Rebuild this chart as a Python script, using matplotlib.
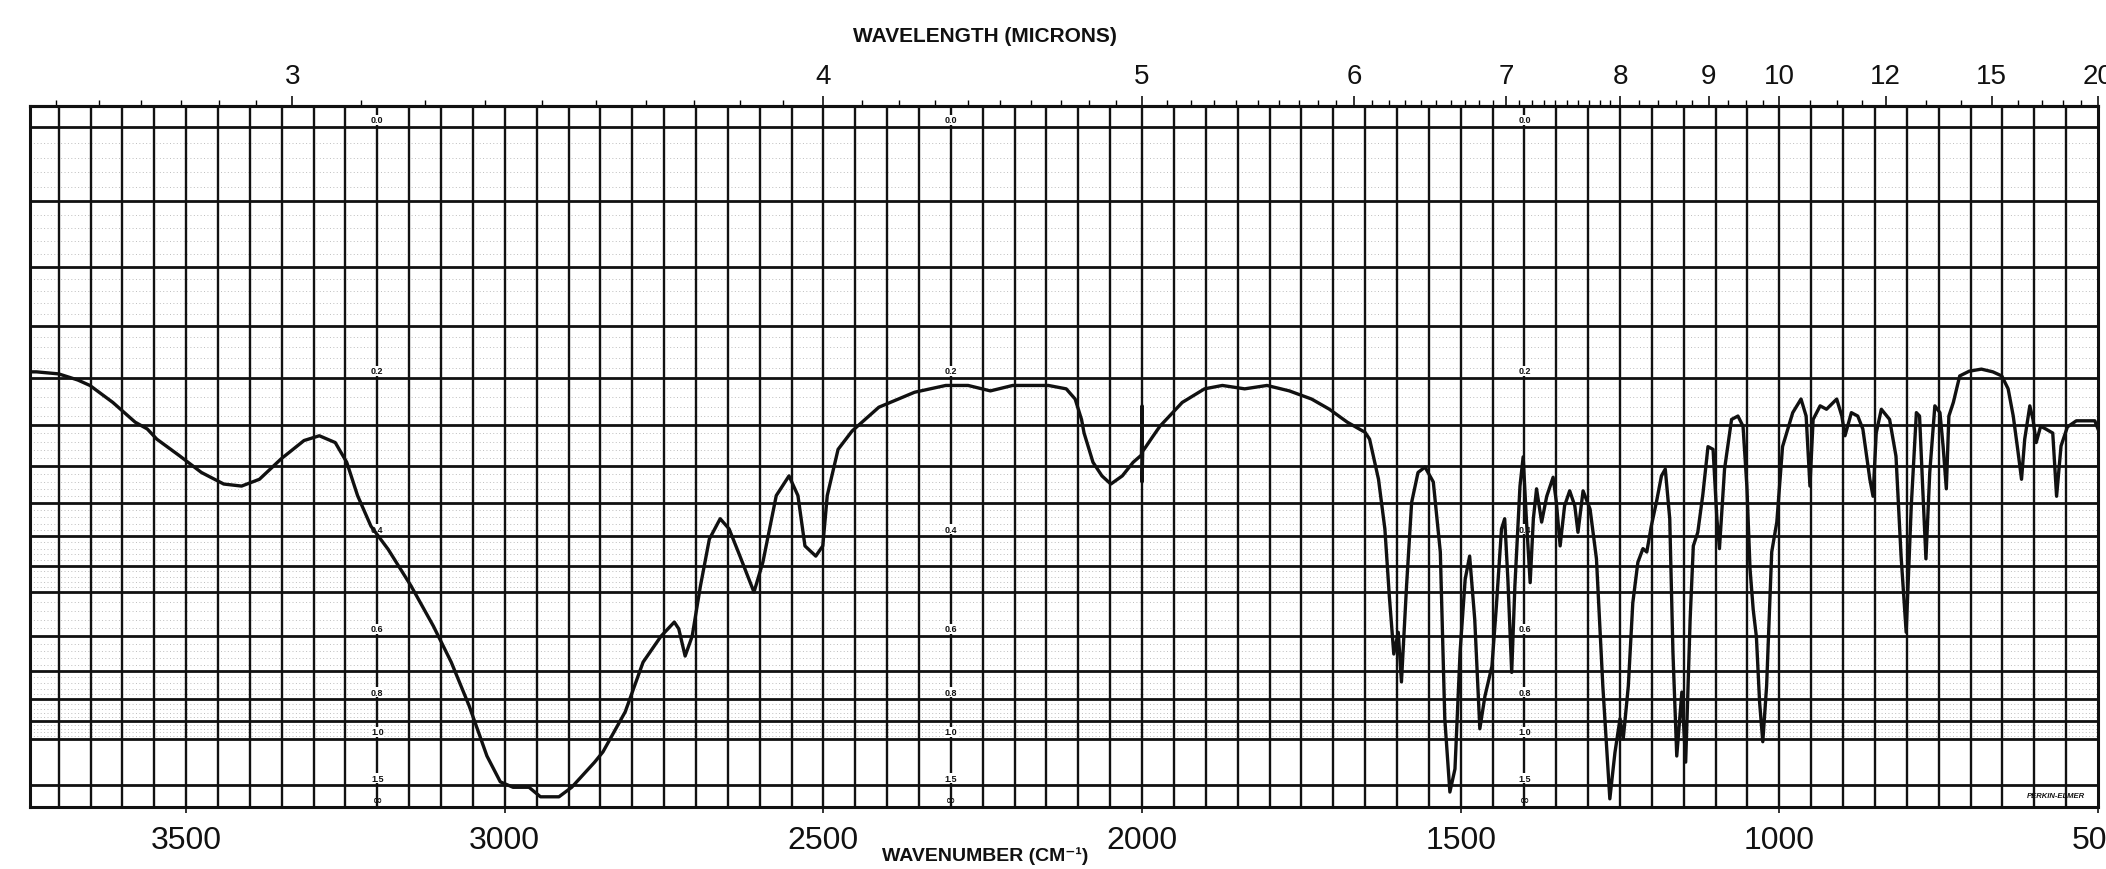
import numpy as np
import matplotlib
matplotlib.use("Agg")
import matplotlib.pyplot as plt

plt.rcParams['font.family'] = ['Liberation Sans', 'DejaVu Sans']

# spectrum: wavenumber (cm-1) and % transmittance
wavenumber = [3745, 3735, 3700, 3670, 3651, 3615, 3580, 3561, 3546, 3511, 3476, 3441,
              3413, 3385, 3351, 3315, 3291, 3266, 3248, 3231, 3210, 3183, 3147, 3112,
              3084, 3056, 3028, 3007, 2987, 2962, 2944, 2915, 2895, 2859, 2846, 2811,
              2783, 2755, 2734, 2727, 2717, 2706, 2693, 2679, 2662, 2648, 2631, 2609,
              2595, 2574, 2554, 2540, 2529, 2512, 2501, 2494, 2477, 2455, 2413, 2357,
              2308, 2273, 2238, 2203, 2147, 2119, 2105, 2095, 2091, 2077, 2063, 2049,
              2031, 2014, 2003, 2001, 2000, 2000, 1999, 1986, 1972, 1937, 1902, 1874,
              1839, 1804, 1769, 1734, 1706, 1678, 1650, 1643, 1629, 1619, 1612, 1605,
              1598, 1593, 1585, 1577, 1567, 1556, 1543, 1532, 1525, 1517, 1509, 1501,
              1493, 1486, 1478, 1470, 1462, 1451, 1444, 1436, 1431, 1426, 1420, 1415,
              1407, 1402, 1397, 1391, 1386, 1381, 1373, 1365, 1355, 1350, 1344, 1337,
              1329, 1321, 1316, 1308, 1297, 1287, 1277, 1266, 1258, 1250, 1245, 1237,
              1230, 1222, 1214, 1208, 1201, 1193, 1185, 1179, 1172, 1167, 1161, 1153,
              1147, 1140, 1135, 1128, 1120, 1112, 1104, 1098, 1094, 1086, 1075, 1065,
              1057, 1051, 1046, 1041, 1036, 1031, 1026, 1020, 1012, 1004, 995, 979,
              966, 958, 952, 947, 936, 926, 910, 902, 897, 887, 877, 869,
              858, 853, 848, 840, 827, 817, 809, 801, 793, 785, 780, 775,
              770, 764, 756, 748, 743, 738, 734, 727, 717, 702, 683, 665,
              651, 641, 633, 626, 620, 615, 607, 602, 597, 590, 582, 571,
              565, 558, 548, 534, 519, 505, 500]
transmittance = [64.0, 64.0, 63.7, 62.8, 62.0, 59.5, 56.6, 55.6, 54.1, 51.7, 49.2, 47.5,
                 47.2, 48.2, 51.2, 53.9, 54.6, 53.6, 50.7, 45.8, 41.3, 37.9, 32.5, 26.6,
                 21.3, 14.9, 7.5, 3.7, 2.9, 2.9, 1.5, 1.5, 2.9, 6.6, 8.1, 14.0,
                 21.3, 25.1, 27.2, 26.2, 22.2, 25.1, 32.5, 39.4, 42.4, 40.9, 36.9, 31.6,
                 36.0, 45.8, 48.7, 45.8, 38.4, 36.9, 38.4, 45.8, 52.6, 55.3, 58.8, 61.0,
                 62.0, 62.0, 61.2, 62.0, 62.0, 61.5, 60.0, 57.0, 55.0, 50.7, 48.7, 47.5,
                 48.7, 50.7, 51.6, 51.8, 59.0, 47.8, 52.3, 54.1, 56.0, 59.5, 61.5, 62.0,
                 61.5, 62.0, 61.2, 60.0, 58.5, 56.6, 55.1, 54.1, 48.2, 40.9, 31.0, 22.5,
                 25.7, 18.4, 32.5, 44.8, 49.2, 50.0, 47.8, 37.5, 13.0, 2.2, 5.6, 22.8,
                 33.5, 36.9, 27.6, 11.5, 16.3, 20.7, 29.6, 40.9, 42.4, 33.5, 19.8, 32.5,
                 47.2, 51.5, 42.4, 33.0, 42.4, 46.8, 41.9, 45.7, 48.5, 44.9, 38.4, 44.3,
                 46.5, 44.3, 40.4, 46.5, 43.8, 36.5, 17.8, 1.2, 8.0, 13.0, 10.0, 17.8,
                 30.0, 36.0, 38.0, 37.5, 41.3, 44.8, 48.7, 49.7, 42.4, 22.8, 7.5, 16.9,
                 6.6, 27.6, 38.4, 40.4, 46.0, 53.0, 52.6, 42.4, 38.0, 49.7, 57.0, 57.5,
                 56.0, 47.2, 35.0, 29.0, 25.0, 15.4, 9.6, 17.8, 37.5, 41.9, 53.0, 58.0,
                 60.0, 57.5, 47.2, 57.0, 59.0, 58.5, 60.0, 57.5, 54.6, 58.0, 57.5, 55.6,
                 48.2, 45.7, 55.0, 58.5, 57.0, 51.6, 36.9, 25.7, 44.3, 58.0, 57.5, 46.8,
                 36.5, 49.2, 59.0, 58.0, 53.0, 46.8, 57.5, 59.5, 63.4, 64.1, 64.4, 64.0,
                 63.4, 61.5, 57.5, 52.6, 48.2, 54.1, 59.0, 57.0, 53.6, 56.0, 55.6, 55.0,
                 45.7, 53.1, 55.9, 56.8, 56.8, 56.8, 55.6]

# chart paper
wn_ticks = [3500, 3000, 2500, 2000, 1500, 1000, 500]
um_major = [3, 4, 5, 6, 7, 8, 9, 10, 12, 15, 20]
um_minor = ([2.70, 2.75, 2.80, 2.85, 2.90, 2.95]
            + [3.1, 3.2, 3.3, 3.4, 3.5, 3.6, 3.7, 3.8, 3.9]
            + [4.1, 4.2, 4.3, 4.4, 4.5, 4.6, 4.7, 4.8, 4.9]
            + [5.1, 5.2, 5.3, 5.4, 5.5, 5.6, 5.7, 5.8, 5.9]
            + [6.1, 6.2, 6.3, 6.4, 6.5, 6.6, 6.7, 6.8, 6.9]
            + [7.1, 7.2, 7.3, 7.4, 7.5, 7.6, 7.7, 7.8, 7.9]
            + [8.2, 8.4, 8.6, 8.8, 9.25, 9.5, 9.75, 10.5, 11, 11.5, 13, 14, 16, 17, 18, 19])
absorb_lines = [0, 0.05, 0.1, 0.15, 0.2, 0.25, 0.3, 0.35, 0.4, 0.45, 0.5,
                0.6, 0.7, 0.8, 0.9, 1.0, 1.5]
absorb_labels = ["0.0", "0.2", "0.4", "0.6", "0.8", "1.0", "1.5"]
absorb_label_vals = [0.0, 0.2, 0.4, 0.6, 0.8, 1.0, 1.5]
label_columns = [3200, 2300, 1400]

def to_T(a):
    return 100 * 10 ** (-np.asarray(a, float))

def inv(x):
    x = np.asarray(x, float)
    with np.errstate(divide="ignore", invalid="ignore"):
        return 1e4 / x

fig = plt.figure(figsize=(21.06, 8.70), dpi=100)
ax = fig.add_axes([30 / 2106, 62 / 870, 2068 / 2106, 701 / 870])
ax.set_xlim(3745, 500)
ax.set_ylim(0, 103.1)

ink = "#111111"

# faint printed fine rulings
fine = list(np.arange(0.01, 0.5, 0.01)) + list(np.arange(0.52, 1.0, 0.02))
for a in fine:
    ax.axhline(to_T(a), color="#bdbdbd", lw=0.7, ls=(0, (1, 2.5)), zorder=1)

for wn in range(550, 3746, 50):
    ax.axvline(wn, color=ink, lw=1.7, zorder=2)
for a in absorb_lines:
    ax.axhline(to_T(a), color=ink, lw=2.0, zorder=2)

for col in label_columns:
    for lab, a in zip(absorb_labels, absorb_label_vals):
        ax.text(col, to_T(a) + 0.4, lab, ha="center", va="bottom", fontsize=6.5,
                fontweight="bold", color=ink, zorder=3,
                bbox=dict(boxstyle="square,pad=0.05", fc="white", ec="none"))
    ax.text(col, 0.3, "\u221e", ha="center", va="bottom", fontsize=8,
            fontweight="bold", color=ink, zorder=3, family=["DejaVu Sans"])

ax.plot(wavenumber, transmittance, color=ink, lw=2.4, zorder=4,
        solid_joinstyle="round")

for s in ax.spines.values():
    s.set_linewidth(2.2)
    s.set_color(ink)

ax.set_yticks([])
ax.set_xticks(wn_ticks)
ax.set_xticklabels([str(v) for v in wn_ticks])
ax.tick_params(axis="x", direction="out", length=4, width=1.2, pad=9,
               labelsize=23, colors=ink)

sec = ax.secondary_xaxis("top", functions=(inv, inv))
sec.set_xticks(um_major)
sec.set_xticklabels([str(v) for v in um_major])
sec.set_xticks(um_minor, minor=True)
sec.tick_params(axis="x", which="major", direction="out", length=7, width=1.2,
                pad=5, labelsize=20, colors=ink)
sec.tick_params(axis="x", which="minor", direction="out", length=4, width=1.0)
sec.spines["top"].set_linewidth(2.2)

fig.text(985 / 2106, 1 - 36 / 870, "WAVELENGTH (MICRONS)", ha="center", va="center",
         fontsize=15, fontweight="bold", color=ink)
fig.text(985 / 2106, 1 - 856 / 870, "WAVENUMBER (CM\u207b\u00b9)", ha="center",
         va="center", fontsize=14, fontweight="bold", color=ink,
         family=["Liberation Sans", "DejaVu Sans"])
ax.text(520, 1.2, "PERKIN-ELMER", ha="right", va="bottom", fontsize=5.5,
        fontweight="bold", style="italic", color=ink, zorder=5)

fig.savefig("out.png", dpi=100)
